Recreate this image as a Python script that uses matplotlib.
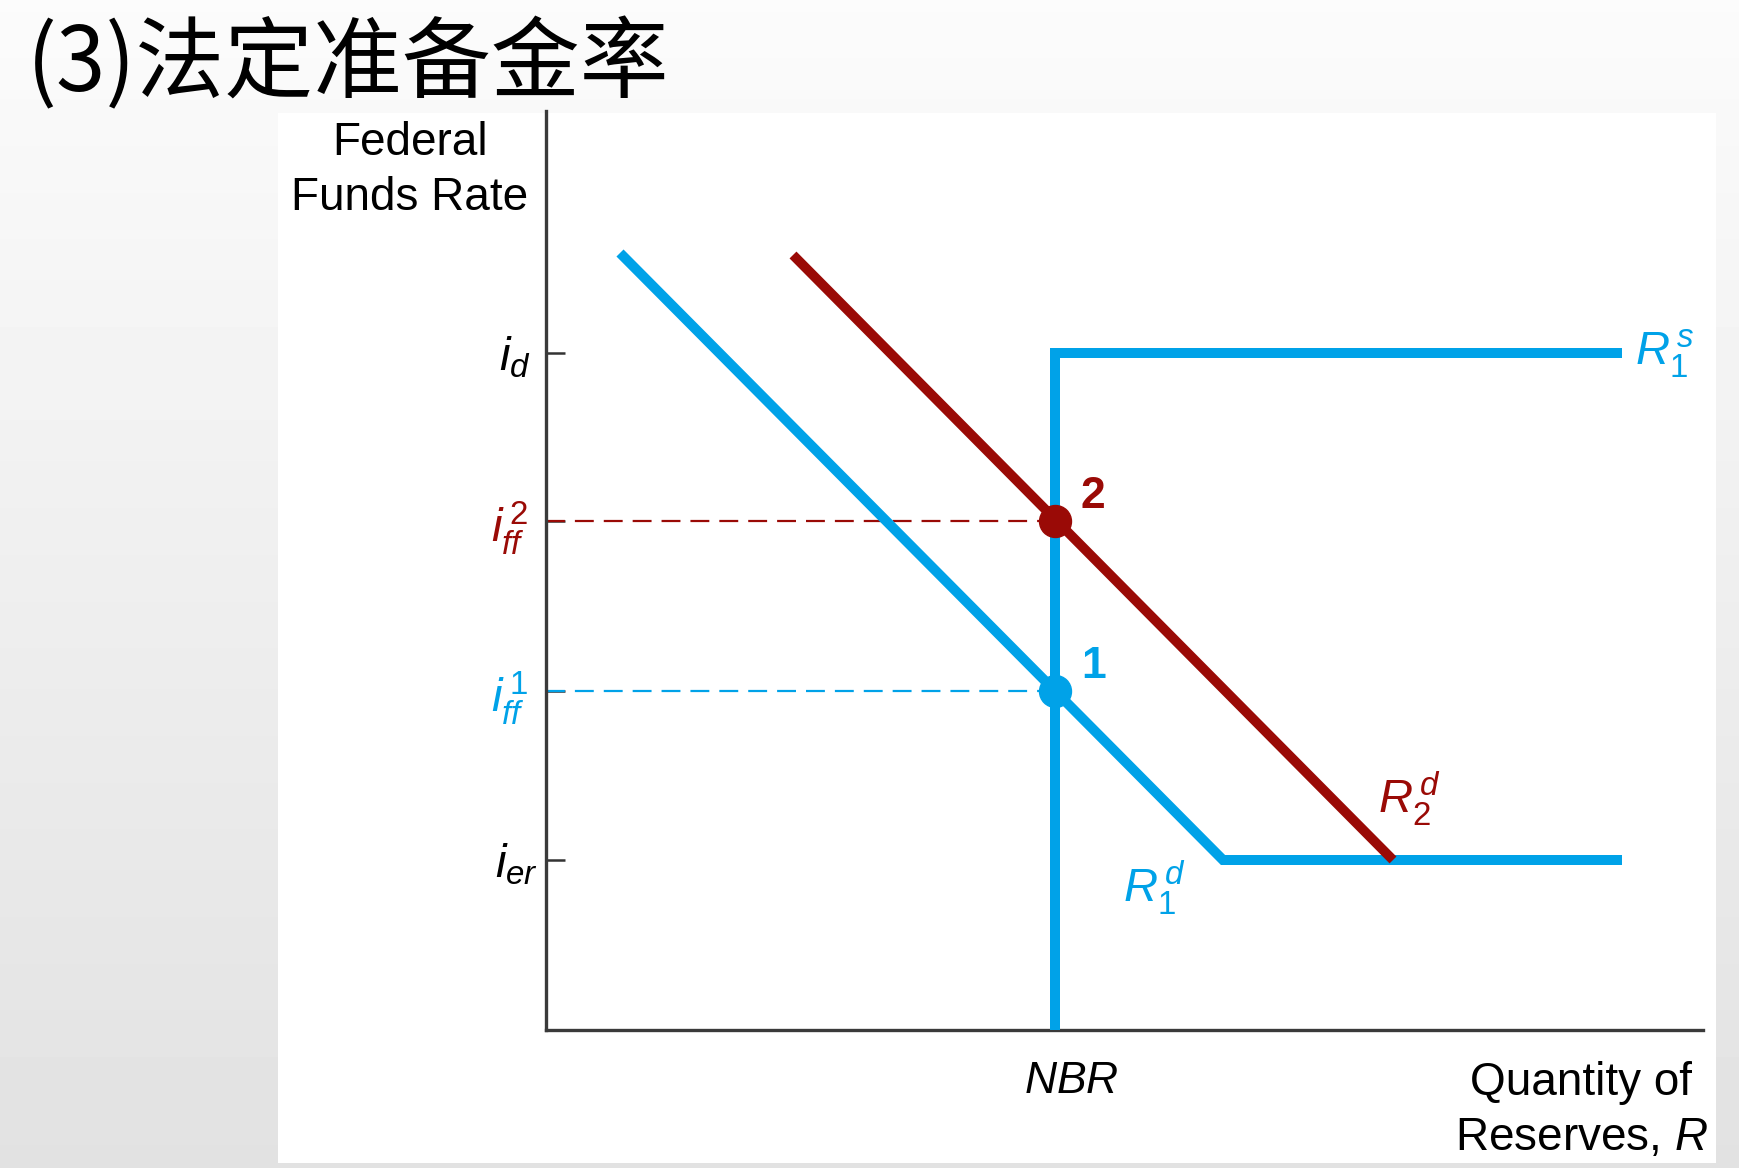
import numpy as np
import matplotlib
matplotlib.use('Agg')
import matplotlib.pyplot as plt
from matplotlib.patches import Rectangle
from matplotlib.transforms import ScaledTranslation

plt.rcParams['font.family'] = ['Liberation Sans', 'DejaVu Sans']
plt.rcParams['mathtext.fontset'] = 'custom'
plt.rcParams['mathtext.rm'] = 'Liberation Sans'
plt.rcParams['mathtext.it'] = 'Liberation Sans:italic'
plt.rcParams['mathtext.bf'] = 'Liberation Sans:bold'

# ---- datos (unidades arbitrarias del diagrama) ----
tasas = [677, 509, 339, 170]          # i_d, i_ff^2, i_ff^1, i_er
tasas_lbl = [r'$i_d$', r'$i_{ff}^{\,2}$', r'$i_{ff}^{\,1}$', r'$i_{er}$']
nbr = 509

# oferta de reservas R1s
rs_x = [nbr, nbr, 1076]
rs_y = [0, 677, 677]
# demanda R1d (con tramo plano en i_er)
rd1_x = [74, 677, 1076]
rd1_y = [777, 170, 170]
# demanda R2d tras subir el encaje
rd2_x = [247, 847]
rd2_y = [775, 170]
# equilibrios
eq_x = [nbr, nbr]
eq_y = [339, 509]

azul = '#00a2e8'
rojo = '#9a0a06'

fig = plt.figure(figsize=(17.4, 11.68), dpi=100)

# fondo gris degradado + panel blanco
bg = fig.add_axes([0, 0, 1, 1], zorder=-3)
grad = np.linspace(0.985, 0.885, 200).reshape(-1, 1)
bg.imshow(grad, cmap='gray', vmin=0, vmax=1, aspect='auto', extent=[0, 1, 0, 1])
bg.set_axis_off()
fig.patches.append(Rectangle((278/1740, 1 - 1163/1168), (1716-278)/1740, (1163-113)/1168,
                             transform=fig.transFigure, facecolor='white',
                             edgecolor='none', zorder=-2))

fig.text(27/1740, 1 - 66/1168, '(3)法定准备金率', fontsize=64,
         family=['Noto Sans CJK SC', 'DejaVu Sans'], va='center', ha='left')

ax = fig.add_axes([546/1740, 138/1168, 1157/1740, 919/1168])
ax.set_facecolor('none')
ax.set_xlim(0, 1157)
ax.set_ylim(0, 919)

for s in ['top', 'right']:
    ax.spines[s].set_visible(False)
for s in ['left', 'bottom']:
    ax.spines[s].set_color('#3a3a3a')
    ax.spines[s].set_linewidth(2.4)

# lineas punteadas hasta el eje
ax.plot([0, nbr], [eq_y[1], eq_y[1]], color=rojo, lw=1.6, dashes=(8.5, 4.5), zorder=2)
ax.plot([0, nbr], [eq_y[0], eq_y[0]], color=azul, lw=1.6, dashes=(8.5, 4.5), zorder=2)

ax.plot(rs_x, rs_y, color=azul, lw=7.2, solid_joinstyle='miter',
        solid_capstyle='butt', clip_on=False, zorder=3)
ax.plot(rd1_x, rd1_y, color=azul, lw=7.2, solid_joinstyle='miter',
        solid_capstyle='butt', zorder=3)
ax.plot(rd2_x, rd2_y, color=rojo, lw=7.0, solid_capstyle='butt', zorder=4)

ax.plot(eq_x[0], eq_y[0], 'o', color=azul, ms=23, zorder=5)
ax.plot(eq_x[1], eq_y[1], 'o', color=rojo, ms=23, zorder=5)

ax.text(nbr + 26, eq_y[1] + 24, '2', color=rojo, fontsize=32, fontweight='bold',
        ha='left', va='center')
ax.text(nbr + 26, eq_y[0] + 24, '1', color=azul, fontsize=32, fontweight='bold',
        ha='left', va='center')

ax.text(1089, 676, r'$R_1^{\,s}$', color=azul, fontsize=34, ha='left', va='center')
ax.text(863, 231, r'$R_2^{\,d}$', color=rojo, fontsize=34, ha='center', va='center')
ax.text(608, 142, r'$R_1^{\,d}$', color=azul, fontsize=34, ha='center', va='center')

# ejes
ax.set_yticks(tasas)
ax.set_yticklabels(tasas_lbl, fontsize=34)
ax.tick_params(axis='y', direction='in', length=14, width=1.8, color='#333333')
lbl_col = ['black', rojo, azul, 'black']
pads = [11, 13, 13, 6]
for t, c, p in zip(ax.yaxis.get_major_ticks(), lbl_col, pads):
    t.label1.set_color(c)
    t.set_pad(p)

ax.set_xticks([nbr])
ax.set_xticklabels([r'$NBR$'], fontsize=32)
ax.tick_params(axis='x', length=0, pad=22)
for lb in ax.get_xticklabels():
    lb.set_transform(lb.get_transform() + ScaledTranslation(0.16, 0, fig.dpi_scale_trans))

ax.set_ylabel('Federal\nFunds Rate', fontsize=33, rotation=0, ha='center',
              va='center', linespacing=1.32)
ax.yaxis.set_label_coords(-0.1175, 0.935)
ax.set_xlabel('Quantity of\nReserves, $R$', fontsize=33, ha='right', va='center',
              multialignment='center', linespacing=1.32)
ax.xaxis.set_label_coords(1.004, -0.088)

fig.savefig('out.png', dpi=100)
